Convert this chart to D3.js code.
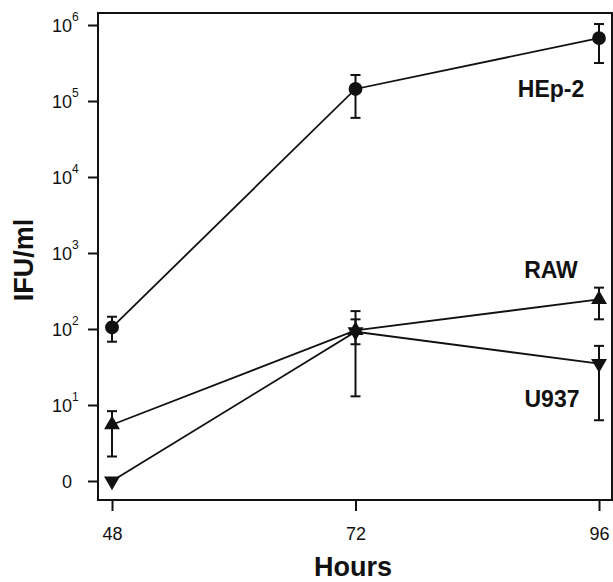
<!DOCTYPE html>
<html>
<head>
<meta charset="utf-8">
<script src="https://cdn.jsdelivr.net/npm/d3@7"></script>
<style>
  body { margin: 0; background: #fff; }
  text { font-family: "Liberation Sans", Arial, sans-serif; fill: #111; }
</style>
</head>
<body>
<svg id="chart" width="613" height="582"></svg>
<script>
// hours post infection
let hours = [48, 72, 96];

// IFU/ml per cell line, with error bar ends
let hep2 = [105, 144000, 670000],
  hep2_hi = [145, 220000, 1030000],
  hep2_lo = [68, 60000, 316000];

let raw = [5.5, 96, 245],
  raw_hi = [8.3, 172, 350],
  raw_lo = [2.1, 63, 134];

let u937 = [1, 92, 35],
  u937_hi = [null, 134, 60],
  u937_lo = [null, 13, 6.3];

let y_ticks = [1, 10, 100, 1000, 10000, 100000, 1000000],
  y_exp = ["", "1", "2", "3", "4", "5", "6"];

let svg = d3.select("#chart");
let m_left = 98, m_right = 612, m_top = 13, m_bottom = 500;

let x = d3.scaleLinear().domain([46.62, 97.28]).range([m_left, m_right]);
let y = d3.scaleLog().domain([Math.pow(10, -0.25), Math.pow(10, 6.158)]).range([m_bottom, m_top]);

function make_series(vals, hi, lo, shape, name) {
  return {
    name: name,
    shape: shape,
    points: hours.map((h, i) => ({h: h, v: vals[i], hi: hi[i], lo: lo[i]}))
  }
}

let series = [
  make_series(hep2, hep2_hi, hep2_lo, "circle", "HEp-2"),
  make_series(raw, raw_hi, raw_lo, "up", "RAW"),
  make_series(u937, u937_hi, u937_lo, "down", "U937")
];

// axes
let yAxis = svg.append("g")
  .attr("transform", `translate(${m_left},0)`)
  .call(d3.axisLeft(y).tickValues(y_ticks).tickSize(10).tickFormat(""));
yAxis.select(".domain").remove();
yAxis.selectAll(".tick line").attr("stroke", "#111").attr("stroke-width", 2);
yAxis.selectAll(".tick").each(function(d, i) {
  let g = d3.select(this);
  g.append("text")
    .attr("x", -26).attr("dy", "0.36em")
    .attr("text-anchor", "end")
    .style("font-size", "18px")
    .text(i == 0 ? "0" : "10");
  if (i > 0) {
    g.append("text")
      .attr("x", -26).attr("y", -5)
      .attr("text-anchor", "start")
      .style("font-size", "12px")
      .text(y_exp[i]);
  }
});

let xAxis = svg.append("g")
  .attr("transform", `translate(0,${m_bottom})`)
  .call(d3.axisBottom(x).tickValues(hours).tickSize(11).tickPadding(16));
xAxis.select(".domain").remove();
xAxis.selectAll(".tick line").attr("stroke", "#111").attr("stroke-width", 2);
xAxis.selectAll(".tick text")
  .style("font-size", "18px")
  .style("font-family", "Liberation Sans, Arial, sans-serif")
  .attr("fill", "#111");

// frame
svg.append("rect")
  .attr("x", m_left).attr("y", m_top)
  .attr("width", m_right - m_left).attr("height", m_bottom - m_top)
  .attr("fill", "none").attr("stroke", "#111").attr("stroke-width", 2);

// axis titles
svg.append("text")
  .attr("transform", "translate(33,260) rotate(-90)")
  .attr("text-anchor", "middle")
  .style("font-size", "27px").style("font-weight", "bold")
  .text("IFU/ml");

svg.append("text")
  .attr("x", 353).attr("y", 576)
  .attr("text-anchor", "middle")
  .style("font-size", "27px").style("font-weight", "bold")
  .text("Hours");

let line = d3.line().x(d => x(d.h)).y(d => y(d.v));

let groups = svg.selectAll(".series")
  .data(series).enter()
  .append("g").attr("class", "series");

groups.append("path")
  .attr("d", d => line(d.points))
  .attr("fill", "none").attr("stroke", "#111").attr("stroke-width", 1.8);

// error bars
groups.each(function(s) {
  let g = d3.select(this);
  let pts = s.points.filter(p => p.hi != null);
  g.selectAll(".err").data(pts).enter()
    .append("line")
    .attr("x1", d => x(d.h)).attr("x2", d => x(d.h))
    .attr("y1", d => y(d.hi)).attr("y2", d => y(d.lo))
    .attr("stroke", "#111").attr("stroke-width", 2);
  ["hi", "lo"].forEach(k => {
    g.selectAll(".cap-" + k).data(pts).enter()
      .append("line")
      .attr("x1", d => x(d.h) - 5).attr("x2", d => x(d.h) + 5)
      .attr("y1", d => y(d[k])).attr("y2", d => y(d[k]))
      .attr("stroke", "#111").attr("stroke-width", 2);
  });
});

// markers
let sym = {
  circle: d3.symbol().type(d3.symbolCircle).size(150),
  up: d3.symbol().type(d3.symbolTriangle).size(110),
  down: d3.symbol().type(d3.symbolTriangle).size(110)
};
groups.each(function(s) {
  d3.select(this).selectAll(".pt").data(s.points).enter()
    .append("path")
    .attr("d", sym[s.shape])
    .attr("transform", d => `translate(${x(d.h)},${y(d.v)})` + (s.shape == "down" ? " rotate(180)" : ""))
    .attr("fill", "#111");
});

// series labels
let labels = [
  {text: "HEp-2", x: 551, y: 97},
  {text: "RAW", x: 551, y: 278},
  {text: "U937", x: 552, y: 407}
];
svg.selectAll(".lab").data(labels).enter()
  .append("text")
  .attr("x", d => d.x).attr("y", d => d.y)
  .attr("text-anchor", "middle")
  .style("font-size", "23px").style("font-weight", "bold")
  .text(d => d.text);
</script>
</body>
</html>
